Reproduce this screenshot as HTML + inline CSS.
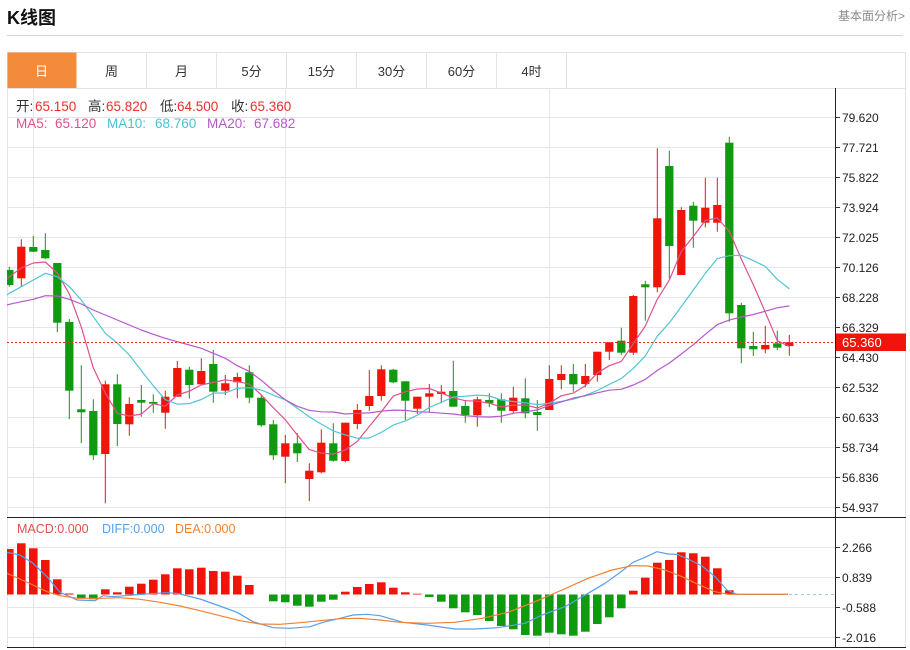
<!DOCTYPE html>
<html><head><meta charset="utf-8"><style>
html,body{margin:0;padding:0;background:#fff;}
svg{display:block;font-family:"Liberation Sans","Noto Sans CJK SC",sans-serif;}
</style></head><body>
<svg width="910" height="650" viewBox="0 0 910 650" xmlns="http://www.w3.org/2000/svg">
<rect width="910" height="650" fill="#fff"/>
<text x="7" y="24" font-size="18" font-weight="bold" fill="#111">K线图</text>
<text x="905" y="20" font-size="12" fill="#8a8a8a" text-anchor="end">基本面分析&gt;</text>
<line x1="7" y1="35.5" x2="903" y2="35.5" stroke="#d6d6d6"/>
<g shape-rendering="crispEdges">
<rect x="7.5" y="52.5" width="898" height="595" fill="none" stroke="#e3e3e3"/>
<rect x="7.5" y="52.5" width="69" height="36" fill="#f28b3c"/>
<line x1="7" y1="88.5" x2="906" y2="88.5" stroke="#e3e3e3"/>
<g stroke="#e3e3e3"><line x1="146.5" y1="52" x2="146.5" y2="88"/><line x1="216.5" y1="52" x2="216.5" y2="88"/><line x1="286.5" y1="52" x2="286.5" y2="88"/><line x1="356.5" y1="52" x2="356.5" y2="88"/><line x1="426.5" y1="52" x2="426.5" y2="88"/><line x1="496.5" y1="52" x2="496.5" y2="88"/><line x1="566.5" y1="52" x2="566.5" y2="88"/></g>
</g>
<g font-size="13" text-anchor="middle" fill="#333">
<text x="41.5" y="76" fill="#fff">日</text><text x="111.5" y="76">周</text><text x="181.5" y="76">月</text><text x="251.5" y="76">5分</text><text x="321.5" y="76">15分</text><text x="391.5" y="76">30分</text><text x="461.5" y="76">60分</text><text x="531.5" y="76">4时</text>
</g>
<!-- grid -->
<g stroke="#e6e6ea" shape-rendering="crispEdges">
<line x1="7" y1="117.5" x2="835" y2="117.5"/><line x1="7" y1="147.5" x2="835" y2="147.5"/><line x1="7" y1="177.5" x2="835" y2="177.5"/><line x1="7" y1="207.5" x2="835" y2="207.5"/><line x1="7" y1="237.5" x2="835" y2="237.5"/><line x1="7" y1="267.5" x2="835" y2="267.5"/><line x1="7" y1="297.5" x2="835" y2="297.5"/><line x1="7" y1="327.5" x2="835" y2="327.5"/><line x1="7" y1="357.5" x2="835" y2="357.5"/><line x1="7" y1="387.5" x2="835" y2="387.5"/><line x1="7" y1="417.5" x2="835" y2="417.5"/><line x1="7" y1="447.5" x2="835" y2="447.5"/><line x1="7" y1="477.5" x2="835" y2="477.5"/><line x1="7" y1="507.5" x2="835" y2="507.5"/>
<line x1="7" y1="547.5" x2="835" y2="547.5"/><line x1="7" y1="577.5" x2="835" y2="577.5"/><line x1="7" y1="607.5" x2="835" y2="607.5"/><line x1="7" y1="637.5" x2="835" y2="637.5"/>
<line x1="33.5" y1="89" x2="33.5" y2="647"/><line x1="285.5" y1="89" x2="285.5" y2="647"/><line x1="549.5" y1="89" x2="549.5" y2="647"/>
</g>
<!-- info -->
<g font-size="13.5">
<text x="16" y="111" fill="#333">开:</text><text x="35" y="111" fill="#e8302a">65.150</text>
<text x="88" y="111" fill="#333">高:</text><text x="106" y="111" fill="#e8302a">65.820</text>
<text x="160" y="111" fill="#333">低:</text><text x="177" y="111" fill="#e8302a">64.500</text>
<text x="231" y="111" fill="#333">收:</text><text x="250" y="111" fill="#e8302a">65.360</text>
<text x="16" y="128" fill="#e0508c">MA5:</text><text x="55" y="128" fill="#e0508c">65.120</text>
<text x="107" y="128" fill="#48c2d2">MA10:</text><text x="155" y="128" fill="#48c2d2">68.760</text>
<text x="207" y="128" fill="#b45ac8">MA20:</text><text x="254" y="128" fill="#b45ac8">67.682</text>
</g>
<g transform="translate(9.3,0)">
<!-- red candles -->
<g fill="#f0140a" stroke="#f0140a">
<path fill="none" stroke-width="1" d="M12 239.3V286.7M96 380.7V503.3M120 397.3V435.7M156 390.7V428.7M168 361V396.7M192 358.3V384.3M216 375V395M228 372.7V398.3M276 435V483.3M300 463.3V501M312 429.3V473.3M336 422.7V462.3M348 404V429M360 370V410.7M372 365.3V400.7M408 396.7V414M420 384V412M432 385V403.3M468 396.7V426.7M504 386.7V413.3M540 365.3V410M552 365.3V389.3M576 364V387.3M588 351.7V381.7M600 342.3V360M624 295V355M648 148.3V292.3M672 207.3V275M696 177.7V227.3M708 177.7V231.7M756 325.7V353.3M780 335V355.7"/>
<g stroke="none">
<rect x="7.85" y="246.7" width="8.3" height="31.6"/><rect x="91.85" y="384.3" width="8.3" height="69.7"/><rect x="115.85" y="404" width="8.3" height="20.3"/><rect x="151.85" y="396.7" width="8.3" height="16"/><rect x="163.85" y="368" width="8.3" height="28.7"/><rect x="187.85" y="371" width="8.3" height="13.3"/><rect x="211.85" y="383.3" width="8.3" height="7.4"/><rect x="223.85" y="377" width="8.3" height="5.3"/><rect x="271.85" y="443.3" width="8.3" height="13.4"/><rect x="295.85" y="470.7" width="8.3" height="8.3"/><rect x="307.85" y="442.7" width="8.3" height="29.6"/><rect x="331.85" y="422.7" width="8.3" height="38.3"/><rect x="343.85" y="410" width="8.3" height="14"/><rect x="355.85" y="396" width="8.3" height="10"/><rect x="367.85" y="369.3" width="8.3" height="26.7"/><rect x="403.85" y="396.7" width="8.3" height="12"/><rect x="415.85" y="393.3" width="8.3" height="3.4"/><rect x="427.85" y="391.7" width="8.3" height="2.3"/><rect x="463.85" y="399.3" width="8.3" height="16"/><rect x="499.85" y="397.7" width="8.3" height="13.3"/><rect x="535.85" y="379" width="8.3" height="31"/><rect x="547.85" y="374" width="8.3" height="6"/><rect x="571.85" y="376" width="8.3" height="8"/><rect x="583.85" y="351.7" width="8.3" height="23.3"/><rect x="595.85" y="342.3" width="8.3" height="9.4"/><rect x="619.85" y="296" width="8.3" height="56.7"/><rect x="643.85" y="218.3" width="8.3" height="69"/><rect x="667.85" y="210" width="8.3" height="65"/><rect x="691.85" y="207.7" width="8.3" height="15"/><rect x="703.85" y="205" width="8.3" height="17.7"/><rect x="751.85" y="345" width="8.3" height="4.3"/><rect x="775.85" y="342.3" width="8.3" height="3.7"/>
</g></g>
<!-- green candles -->
<g fill="#0f9a0f" stroke="#0f9a0f">
<path fill="none" stroke-width="1" d="M0 266.7V286.7M24 236V252M36 233.3V259.3M48 263V332.3M60 319V419.3M72 365.3V443.3M84 399.3V460M108 374.3V446M132 385V416.7M144 394.3V412.7M180 366.7V398.7M204 350V402.7M240 365.3V403.3M252 395V426.7M264 420V460M288 433V462M324 423.3V461.7M384 369V383.3M396 381.3V420M444 360.7V406.7M456 400V422.7M480 393.3V407.3M492 393.3V422.7M516 378.3V418.3M528 400V430.7M564 364V391.7M612 327.7V355M636 280.7V320.7M660 150.7V278.3M684 201.7V247.7M720 136.7V321.7M732 302.7V363.3M744 331.7V356M768 330.7V350"/>
<g stroke="none">
<rect x="-2.3" y="270" width="6.45" height="15"/><rect x="19.85" y="247" width="8.3" height="4.7"/><rect x="31.85" y="250" width="8.3" height="8.3"/><rect x="43.85" y="263" width="8.3" height="59.7"/><rect x="55.85" y="322" width="8.3" height="68.7"/><rect x="67.85" y="409.3" width="8.3" height="3"/><rect x="79.85" y="411" width="8.3" height="44.3"/><rect x="103.85" y="384.3" width="8.3" height="39.7"/><rect x="127.85" y="400" width="8.3" height="2.7"/><rect x="139.85" y="402" width="8.3" height="1.7"/><rect x="175.85" y="369.7" width="8.3" height="15.3"/><rect x="199.85" y="364" width="8.3" height="27.7"/><rect x="235.85" y="372.3" width="8.3" height="25.4"/><rect x="247.85" y="397.7" width="8.3" height="27.6"/><rect x="259.85" y="424.3" width="8.3" height="31"/><rect x="283.85" y="443.3" width="8.3" height="10"/><rect x="319.85" y="443.3" width="8.3" height="17.4"/><rect x="379.85" y="369.7" width="8.3" height="12.6"/><rect x="391.85" y="381.3" width="8.3" height="19.4"/><rect x="439.85" y="391" width="8.3" height="15.7"/><rect x="451.85" y="406" width="8.3" height="9"/><rect x="475.85" y="400" width="8.3" height="3.3"/><rect x="487.85" y="399.3" width="8.3" height="11.4"/><rect x="511.85" y="398.3" width="8.3" height="15"/><rect x="523.85" y="412" width="8.3" height="3"/><rect x="559.85" y="374" width="8.3" height="10.3"/><rect x="607.85" y="340.7" width="8.3" height="12"/><rect x="631.85" y="284.3" width="8.3" height="3"/><rect x="655.85" y="166" width="8.3" height="80"/><rect x="679.85" y="205.7" width="8.3" height="15"/><rect x="715.85" y="142.7" width="8.3" height="170.6"/><rect x="727.85" y="305" width="8.3" height="43.3"/><rect x="739.85" y="346" width="8.3" height="3.3"/><rect x="763.85" y="343.3" width="8.3" height="4.4"/>
</g></g>
<!-- MA lines -->
<g fill="none" stroke-width="1.2" stroke-linejoin="round">
<polyline stroke="#e0508c" points="-2.3,279 0,276.7 12,268 24,263 36,262 48,272.9 60,294 72,327.1 84,367.9 96,393.1 108,413.3 120,416 132,414.1 144,403.7 156,406.2 168,395 180,391.2 192,384.9 204,382.5 216,379.8 228,381.6 240,384.1 252,395 264,407.7 276,419.7 288,435 300,449.6 312,453.1 324,454.1 336,450 348,441.4 360,426.4 372,411.7 384,396.1 396,391.7 408,389 420,388.5 432,392.9 444,397.8 456,400.7 468,401.2 480,403.2 492,407 504,405.2 516,404.9 528,408 540,403.1 552,395.8 564,393.1 576,385.7 588,373 600,365.7 612,361.4 624,343.7 636,326 648,299.3 660,280.1 672,251.5 684,236.5 696,220.5 708,217.9 720,231.3 732,259 744,284.7 756,312.2 768,340.7 780,346.5"/>
<polyline stroke="#52c4d4" points="-2.3,295 0,293.3 12,286.7 24,280 36,273.3 48,276.7 60,286.7 72,300 84,316.7 96,333.3 108,343.1 120,355 132,370.6 144,385.8 156,399.7 168,404.2 180,403.6 192,399.5 204,393.1 216,393 228,388.3 240,387.7 252,390 264,395.1 276,399.8 288,408.3 300,416.9 312,424.1 324,430.9 336,434.9 348,438.2 360,438 372,432.4 384,425.1 396,420.9 408,415.2 420,407.5 432,402.3 444,397 456,396.2 468,395.1 480,395.9 492,400 504,401.5 516,402.8 528,404.6 540,403.2 552,401.4 564,399.2 576,395.3 588,390.5 600,384.4 612,378.6 624,368.4 636,355.9 648,336.2 660,322.9 672,306.5 684,290.1 696,273.3 708,258.6 720,255.7 732,255.3 744,260.6 756,266.4 768,279.3 780,288.9"/>
<polyline stroke="#b45ac8" points="-2.3,305 0,304.3 12,301.7 24,299.3 36,295.7 48,296 60,299.3 72,304 84,310 96,315 108,320 120,325 132,330 144,334.3 156,338.3 168,341.7 180,345 192,348.3 204,353.3 216,358.3 228,365.7 240,371.4 252,380.3 264,390.5 276,399.8 288,406.3 300,410.3 312,411.8 324,412 336,414 348,413.3 360,412.9 372,411.2 384,410.1 396,410.4 408,411.8 420,412.2 432,413.2 444,414 456,415.6 468,416.7 480,417 492,416.2 504,413.3 516,411.9 528,409.9 540,405.4 552,401.9 564,398.1 576,395.8 588,392.8 600,390.2 612,389.3 624,385 636,379.4 648,370.4 660,363.1 672,354 684,344.7 696,334.3 708,324.6 720,320.1 732,317 744,314.5 756,311.2 768,307.8 780,305.9"/>
</g>
<!-- MACD bars -->
<g fill="#f0140a">
<rect x="-2.3" y="549" width="6.6" height="45.5"/><rect x="7.7" y="543.3" width="8.6" height="51.2"/><rect x="19.7" y="548.3" width="8.6" height="46.2"/><rect x="31.7" y="560" width="8.6" height="34.5"/><rect x="43.7" y="579.3" width="8.6" height="15.2"/><rect x="55.7" y="593.5" width="8.6" height="1"/><rect x="91.7" y="589.3" width="8.6" height="5.2"/><rect x="103.7" y="592.3" width="8.6" height="2.2"/><rect x="115.7" y="586.7" width="8.6" height="7.8"/><rect x="127.7" y="583.7" width="8.6" height="10.8"/><rect x="139.7" y="579.7" width="8.6" height="14.8"/><rect x="151.7" y="574.3" width="8.6" height="20.2"/><rect x="163.7" y="568.3" width="8.6" height="26.2"/><rect x="175.7" y="569.3" width="8.6" height="25.2"/><rect x="187.7" y="567.7" width="8.6" height="26.8"/><rect x="199.7" y="571" width="8.6" height="23.5"/><rect x="211.7" y="571.7" width="8.6" height="22.8"/><rect x="223.7" y="575.7" width="8.6" height="18.8"/><rect x="235.7" y="585" width="8.6" height="9.5"/><rect x="331.7" y="591.7" width="8.6" height="2.8"/><rect x="343.7" y="587" width="8.6" height="7.5"/><rect x="355.7" y="584" width="8.6" height="10.5"/><rect x="367.7" y="582.3" width="8.6" height="12.2"/><rect x="379.7" y="587.7" width="8.6" height="6.8"/><rect x="391.7" y="592.3" width="8.6" height="2.2"/><rect x="403.7" y="593.7" width="8.6" height="0.8"/><rect x="619.7" y="590.7" width="8.6" height="3.8"/><rect x="631.7" y="577.7" width="8.6" height="16.8"/><rect x="643.7" y="562.7" width="8.6" height="31.8"/><rect x="655.7" y="560" width="8.6" height="34.5"/><rect x="667.7" y="552.3" width="8.6" height="42.2"/><rect x="679.7" y="553.3" width="8.6" height="41.2"/><rect x="691.7" y="556.7" width="8.6" height="37.8"/><rect x="703.7" y="568.3" width="8.6" height="26.2"/><rect x="715.7" y="590.3" width="8.6" height="4.2"/>
</g>
<g fill="#0f9a0f">
<rect x="67.7" y="594.5" width="8.6" height="3.8"/><rect x="79.7" y="594.5" width="8.6" height="4.8"/><rect x="259.7" y="594.5" width="8.6" height="6.8"/><rect x="271.7" y="594.5" width="8.6" height="7.8"/><rect x="283.7" y="594.5" width="8.6" height="11.2"/><rect x="295.7" y="594.5" width="8.6" height="12.2"/><rect x="307.7" y="594.5" width="8.6" height="7.2"/><rect x="319.7" y="594.5" width="8.6" height="5.2"/><rect x="415.7" y="594.5" width="8.6" height="2.5"/><rect x="427.7" y="594.5" width="8.6" height="7.2"/><rect x="439.7" y="594.5" width="8.6" height="13.8"/><rect x="451.7" y="594.5" width="8.6" height="17.8"/><rect x="463.7" y="594.5" width="8.6" height="20.5"/><rect x="475.7" y="594.5" width="8.6" height="26.5"/><rect x="487.7" y="594.5" width="8.6" height="31.5"/><rect x="499.7" y="594.5" width="8.6" height="34.8"/><rect x="511.7" y="594.5" width="8.6" height="40.5"/><rect x="523.7" y="594.5" width="8.6" height="41.2"/><rect x="535.7" y="594.5" width="8.6" height="38.2"/><rect x="547.7" y="594.5" width="8.6" height="39.8"/><rect x="559.7" y="594.5" width="8.6" height="41.2"/><rect x="571.7" y="594.5" width="8.6" height="37.2"/><rect x="583.7" y="594.5" width="8.6" height="29.5"/><rect x="595.7" y="594.5" width="8.6" height="22.8"/><rect x="607.7" y="594.5" width="8.6" height="13.8"/>
</g>
</g>
<!-- MACD lines -->
<g fill="none" stroke-width="1.2" stroke-linejoin="round">
<polyline stroke="#5aa0e6" points="7,552.3 20,555 33,563.3 47,576.7 60,592.3 77,600 95,600.7 103,595.7 113,596.7 133,595 150,593.7 167,592.7 177,593.3 200,599 217,605 237,612.3 253,621.7 273,627.7 290,628.3 310,626.7 323,622.3 340,618.3 353,615 367,614.3 380,615.7 403,622.3 427,625 455,629 475,629 498,627.7 525,623.3 542,615 565,606.7 588,593.3 605,583.3 622,571 633,562.3 645,557.3 657,551.7 668,554 677,554.3 688,559 702,566 715,576.7 727,590 737,594.3 788,594.3"/>
<polyline stroke="#f08232" points="7,573.3 20,579 33,585 47,591.7 60,595.7 77,598.3 100,598.3 120,597.7 140,599.3 160,602.3 180,606 200,610.7 220,615.7 240,620.7 260,624 280,624.3 300,622.7 320,620.7 340,618.7 360,618.3 380,620 400,622.3 427,623.3 455,622.3 482,618.3 508,612.3 535,601.7 562,590 588,578.3 612,570 632,565.7 648,566 665,570 682,576.7 698,584.3 715,591.7 728,594.3 788,594.3"/>
</g>
<line x1="789" y1="594.5" x2="835" y2="594.5" stroke="#9cc8ec" stroke-dasharray="3,3"/>
<!-- current price line -->
<line x1="7" y1="342.5" x2="835" y2="342.5" stroke="#e8302a" stroke-dasharray="2,2"/>
<!-- panel borders & axis -->
<g shape-rendering="crispEdges">
<line x1="7" y1="517.5" x2="906" y2="517.5" stroke="#222"/>
<line x1="7" y1="647.5" x2="906" y2="647.5" stroke="#222"/>
<line x1="835.5" y1="88" x2="835.5" y2="648" stroke="#222"/>
<g stroke="#333">
<line x1="835" y1="117.5" x2="840" y2="117.5"/><line x1="835" y1="147.5" x2="840" y2="147.5"/><line x1="835" y1="177.5" x2="840" y2="177.5"/><line x1="835" y1="207.5" x2="840" y2="207.5"/><line x1="835" y1="237.5" x2="840" y2="237.5"/><line x1="835" y1="267.5" x2="840" y2="267.5"/><line x1="835" y1="297.5" x2="840" y2="297.5"/><line x1="835" y1="327.5" x2="840" y2="327.5"/><line x1="835" y1="357.5" x2="840" y2="357.5"/><line x1="835" y1="387.5" x2="840" y2="387.5"/><line x1="835" y1="417.5" x2="840" y2="417.5"/><line x1="835" y1="447.5" x2="840" y2="447.5"/><line x1="835" y1="477.5" x2="840" y2="477.5"/><line x1="835" y1="507.5" x2="840" y2="507.5"/>
<line x1="835" y1="547.5" x2="840" y2="547.5"/><line x1="835" y1="577.5" x2="840" y2="577.5"/><line x1="835" y1="607.5" x2="840" y2="607.5"/><line x1="835" y1="637.5" x2="840" y2="637.5"/>
</g></g>
<g font-size="12" fill="#222">
<text x="842" y="122">79.620</text><text x="842" y="152">77.721</text><text x="842" y="182">75.822</text><text x="842" y="212">73.924</text><text x="842" y="242">72.025</text><text x="842" y="272">70.126</text><text x="842" y="302">68.228</text><text x="842" y="332">66.329</text><text x="842" y="362">64.430</text><text x="842" y="392">62.532</text><text x="842" y="422">60.633</text><text x="842" y="452">58.734</text><text x="842" y="482">56.836</text><text x="842" y="512">54.937</text>
<text x="842" y="552">2.266</text><text x="842" y="582">0.839</text><text x="842" y="612">-0.588</text><text x="842" y="642">-2.016</text>
</g>
<rect x="836" y="333.5" width="70" height="17.5" fill="#f0140a"/>
<text x="842" y="347" font-size="13" fill="#fff">65.360</text>
<!-- MACD legend -->
<g font-size="12.5">
<text x="17" y="533" fill="#e2504a">MACD:0.000</text>
<text x="102" y="533" fill="#5aa0e6">DIFF:0.000</text>
<text x="175" y="533" fill="#f08232">DEA:0.000</text>
</g>
</svg>
</body></html>
